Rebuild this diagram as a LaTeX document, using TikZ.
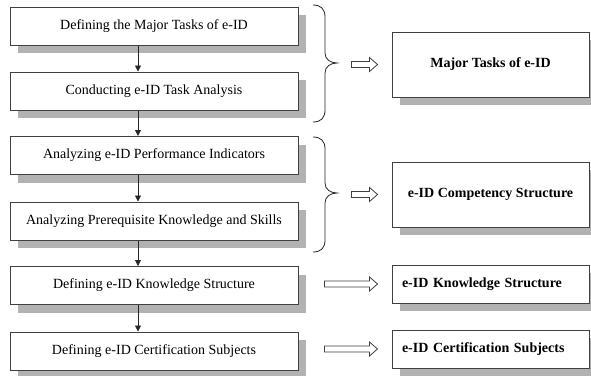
\documentclass[tikz,border=0pt]{standalone}
\usepackage{fontspec}
\setmainfont{Liberation Serif}
\usetikzlibrary{shadows,arrows.meta}
\begin{document}
\begin{tikzpicture}[x=1pt,y=-1pt,
  shade box/.style={draw=black!75, line width=1pt, fill=white, inner sep=0pt,
    drop shadow={shadow xshift=8pt, shadow yshift=-8pt, fill=black!30, opacity=1}},
  lbox/.style={shade box, minimum width=288pt, minimum height=38pt,
    font=\fontsize{14}{16}\selectfont},
  rbox/.style={shade box, minimum width=197pt,
    font=\fontsize{14}{16}\selectfont\bfseries},
  rboxl/.style={rbox, minimum height=38pt, text width=177pt, inner xsep=10pt, align=left},
  flow/.style={line width=0.8pt, draw=black!85, -{Triangle[length=6pt,width=6pt]}},
  bracepath/.style={line width=0.8pt, draw=black!85},
  pics/hollow/.style={code={
    \draw[line width=0.8pt, draw=black!75, fill=white]
      (0,-3) -- (#1-8,-3) -- (#1-8,-7) -- (#1,0) -- (#1-8,7) -- (#1-8,3) -- (0,3) -- cycle;}}
]
\useasboundingbox (0,0) rectangle (591,375);
\clip (0,0) rectangle (591,375);
\fill[white] (0,0) rectangle (591,375);

\node[lbox] (b1) at (154,26)   {Defining the Major Tasks of e-ID};
\node[lbox] (b2) at (154,91)   {Conducting e-ID Task Analysis};
\node[lbox] (b3) at (154,155.5){Analyzing e-ID Performance Indicators};
\node[lbox] (b4) at (154,221)  {Analyzing Prerequisite Knowledge and Skills};
\node[lbox] (b5) at (154,285.5){Defining e-ID Knowledge Structure};
\node[lbox] (b6) at (154,351)  {Defining e-ID Certification Subjects};

\node[rbox, minimum height=65pt] (r1) at (490.5,64.5)  {Major Tasks of e-ID};
\node[rbox, minimum height=65pt] (r2) at (490.5,194.5) {e-ID Competency Structure};
\node[rboxl] (r3) at (490.5,284) {e-ID Knowledge Structure};
\node[rboxl] (r4) at (490.5,349) {e-ID Certification Subjects};

\coordinate (ax) at (138,0);
\draw[flow] (b1.south -| ax) -- (b2.north -| ax);
\draw[flow] (b2.south -| ax) -- (b3.north -| ax);
\draw[flow] (b3.south -| ax) -- (b4.north -| ax);
\draw[flow] (b4.south -| ax) -- (b5.north -| ax);
\draw[flow] (b5.south -| ax) -- (b6.north -| ax);

% braces
\draw[bracepath] (313,5) .. controls (321,5) and (325,9) .. (325,17)
  -- (325,53) .. controls (325,59) and (330,63) .. (337,63)
  .. controls (330,63) and (325,67) .. (325,73)
  -- (325,110) .. controls (325,118) and (321,122) .. (313,122);
\draw[bracepath] (313,137) .. controls (321,137) and (325,141) .. (325,149)
  -- (325,183) .. controls (325,189) and (330,193) .. (337,193)
  .. controls (330,193) and (325,197) .. (325,203)
  -- (325,240) .. controls (325,248) and (321,252) .. (313,252);

% hollow arrows
\pic at ([xshift=-40pt]r1.west) {hollow=26};
\pic at ([xshift=-40pt]r2.west) {hollow=26};
\pic at ([xshift=-67pt]r3.west) {hollow=53};
\pic at ([xshift=-67pt]r4.west) {hollow=53};
\end{tikzpicture}
\end{document}
